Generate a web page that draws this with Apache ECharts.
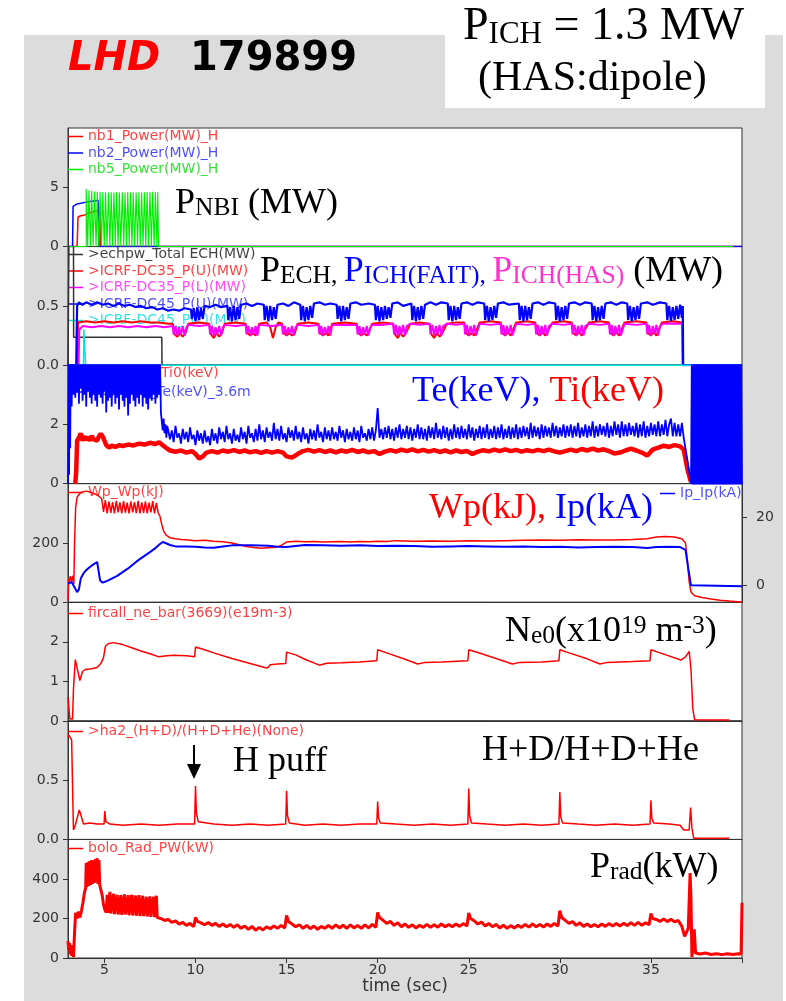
<!DOCTYPE html>
<html>
<head>
<meta charset="utf-8">
<script src="https://cdn.jsdelivr.net/npm/echarts@6/dist/echarts.min.js"></script>
<style>
html, body { margin: 0; padding: 0; background: #fff; }
#chart { width: 786px; height: 1001px; }
</style>
</head>
<body>
<div id="chart"></div>
<script>
//time axis (sec)
var tMin = 3, tMax = 40;
var timeTicks = [5, 10, 15, 20, 25, 30, 35];

//y ranges and labelled ticks of the 7 panels, top to bottom
var yRanges = [[0, 10], [0, 1], [0, 4], [0, 400], [0, 3], [0, 1], [0, 600]];
var yTicks = [[0, 5], [0, 0.5], [0, 2], [0, 200], [0, 1, 2], [0, 0.5], [0, 200, 400]];
var ipRange = [-5, 30];
var ipTicks = [0, 20];

//panel 1: NBI power (MW)
var nb1 = [[3.0,0],[3.5,0],[3.55,2.5],[3.7,2.6],[3.9,2.65],[4.1,2.8],[4.3,2.9],[4.5,3.0],[4.75,3.0],[4.78,0],[40,0]];
var nb2 = [[3.0,0],[3.25,0],[3.28,3.4],[3.5,3.6],[4.0,3.75],[4.4,3.85],[4.65,3.9],[4.7,0],[40,0]];
var nb5 = [[3.0,0],[4.0,4.85],[4.08,0],[4.15,4.75],[4.23,0],[4.3,4.7],[4.38,0],[4.46,4.65],[4.54,0],
  [4.61,4.62],[4.69,0],[4.76,4.6],[4.84,0],[4.91,4.6],[4.99,0],[5.06,4.58],[5.14,0],[5.22,4.55],[5.3,0],
  [5.37,4.58],[5.45,0],[5.52,4.55],[5.6,0],[5.67,4.58],[5.75,0],[5.82,4.56],[5.9,0],[5.98,4.58],[6.06,0],
  [6.13,4.56],[6.21,0],[6.28,4.58],[6.36,0],[6.43,4.56],[6.51,0],[6.58,4.58],[6.66,0],[6.74,4.57],[6.82,0],
  [6.89,4.58],[6.97,0],[7.04,4.56],[7.12,0],[7.19,4.58],[7.27,0],[7.34,4.6],[7.42,0],[7.5,4.58],[7.58,0],
  [7.65,4.62],[7.73,0],[7.8,4.6],[7.88,0],[7.93,4.6],[7.97,0],[39.5,0]];

//panel 2: ECH and ICRF power (MW)
var echpw = [[3.0,0],[3.05,0],[3.06,1.2],[3.3,1.2],[3.31,0.235],[8.15,0.235],[8.16,0],[40,0]];
var ich35U = [[3.0,0],[3.5,0],[3.55,0.36],[4.0,0.37],[4.5,0.36],[5.0,0.37],[5.5,0.36],[6.0,0.37],[6.5,0.36],[7.0,0.37],[7.5,0.36],[8.0,0.36],[8.5,0.35],[8.75,0.35],
  [8.85,0.26],[9.0,0.24],[9.15,0.27],[9.3,0.24],[9.45,0.27],[9.6,0.35],[10.2,0.36],[10.75,0.35],
  [10.85,0.26],[11.0,0.23],[11.15,0.27],[11.3,0.24],[11.45,0.27],[11.6,0.35],[12.2,0.36],[12.75,0.35],
  [12.85,0.27],[13.0,0.25],[13.15,0.27],[13.3,0.25],[13.5,0.35],[13.9,0.36],[14.1,0.32],[14.25,0.23],[14.4,0.32],[14.55,0.36],[14.75,0.35],
  [14.85,0.27],[15.0,0.25],[15.15,0.27],[15.3,0.25],[15.45,0.27],[15.6,0.35],[16.2,0.36],[16.75,0.35],
  [16.85,0.27],[17.0,0.25],[17.15,0.27],[17.3,0.25],[17.5,0.35],[18.2,0.36],[18.85,0.35],
  [18.95,0.27],[19.1,0.25],[19.25,0.27],[19.4,0.25],[19.7,0.35],[20.3,0.36],[20.85,0.35],
  [20.95,0.26],[21.1,0.23],[21.25,0.27],[21.4,0.24],[21.55,0.27],[21.8,0.35],[22.3,0.36],[22.85,0.35],
  [22.95,0.26],[23.1,0.23],[23.25,0.27],[23.4,0.24],[23.55,0.27],[23.8,0.35],[24.3,0.36],[24.75,0.36],
  [24.85,0.27],[25.0,0.25],[25.15,0.27],[25.3,0.25],[25.6,0.36],[26.2,0.37],[26.75,0.36],
  [26.85,0.27],[27.0,0.25],[27.15,0.28],[27.3,0.25],[27.6,0.36],[28.2,0.37],[28.65,0.36],
  [28.75,0.27],[28.9,0.25],[29.05,0.28],[29.2,0.25],[29.6,0.36],[30.2,0.37],[30.65,0.36],
  [30.75,0.27],[30.9,0.25],[31.05,0.28],[31.2,0.25],[31.6,0.36],[32.2,0.37],[32.7,0.36],
  [32.8,0.27],[32.95,0.25],[33.1,0.28],[33.25,0.25],[33.55,0.36],[34.2,0.37],[34.75,0.36],
  [34.85,0.27],[35.0,0.25],[35.15,0.28],[35.3,0.25],[35.6,0.36],[36.2,0.37],[36.72,0.36],[36.75,0],[40,0]];
var ich35L = [[3.0,0],[3.58,0],[3.62,0.3],[3.8,0.33],[4.3,0.32],[4.8,0.33],[5.3,0.32],[5.8,0.33],[6.3,0.32],[6.8,0.33],[7.3,0.32],[7.8,0.33],[8.3,0.32],[8.75,0.33],
  [8.8,0.26],[8.9,0.33],[9.0,0.25],[9.1,0.32],[9.2,0.26],[9.3,0.33],[9.4,0.25],[9.5,0.32],[9.6,0.34],[10.2,0.33],[10.75,0.34],
  [10.8,0.26],[10.9,0.33],[11.0,0.25],[11.1,0.32],[11.2,0.26],[11.3,0.33],[11.4,0.25],[11.5,0.32],[11.6,0.34],[12.2,0.33],[12.75,0.34],
  [12.8,0.26],[12.9,0.33],[13.0,0.25],[13.1,0.32],[13.2,0.26],[13.3,0.33],[13.4,0.25],[13.5,0.34],[14.2,0.33],[14.75,0.34],
  [14.8,0.26],[14.9,0.33],[15.0,0.25],[15.1,0.32],[15.2,0.26],[15.3,0.33],[15.4,0.25],[15.5,0.32],[15.6,0.34],[16.2,0.33],[16.75,0.34],
  [16.8,0.26],[16.9,0.33],[17.0,0.25],[17.1,0.32],[17.2,0.26],[17.3,0.33],[17.4,0.25],[17.5,0.34],[18.2,0.34],[18.85,0.34],
  [18.9,0.26],[19.0,0.33],[19.1,0.25],[19.2,0.32],[19.3,0.26],[19.4,0.33],[19.5,0.25],[19.6,0.32],[19.7,0.34],[20.3,0.34],[20.85,0.35],
  [20.9,0.26],[21.0,0.34],[21.1,0.25],[21.2,0.33],[21.3,0.26],[21.4,0.34],[21.5,0.25],[21.6,0.33],[21.8,0.35],[22.3,0.34],[22.85,0.35],
  [22.9,0.26],[23.0,0.34],[23.1,0.25],[23.2,0.33],[23.3,0.26],[23.4,0.34],[23.5,0.25],[23.6,0.33],[23.8,0.35],[24.3,0.34],[24.75,0.35],
  [24.8,0.26],[24.9,0.34],[25.0,0.25],[25.1,0.33],[25.2,0.26],[25.3,0.34],[25.4,0.25],[25.6,0.35],[26.2,0.34],[26.75,0.35],
  [26.8,0.26],[26.9,0.34],[27.0,0.25],[27.1,0.33],[27.2,0.26],[27.3,0.34],[27.4,0.25],[27.6,0.35],[28.2,0.34],[28.65,0.35],
  [28.7,0.26],[28.8,0.34],[28.9,0.25],[29.0,0.33],[29.1,0.26],[29.2,0.34],[29.3,0.25],[29.4,0.33],[29.6,0.35],[30.2,0.34],[30.65,0.35],
  [30.7,0.26],[30.8,0.34],[30.9,0.25],[31.0,0.33],[31.1,0.26],[31.2,0.34],[31.3,0.25],[31.4,0.33],[31.6,0.35],[32.2,0.34],[32.7,0.35],
  [32.75,0.26],[32.85,0.34],[32.95,0.25],[33.05,0.33],[33.15,0.26],[33.25,0.34],[33.35,0.25],[33.55,0.35],[34.2,0.34],[34.75,0.35],
  [34.8,0.26],[34.9,0.34],[35.0,0.25],[35.1,0.33],[35.2,0.26],[35.3,0.34],[35.4,0.25],[35.5,0.33],[35.65,0.35],[36.2,0.35],[36.72,0.35],[36.75,0],[40,0]];
var ich45U = [[3.0,0],[3.45,0],[3.5,0.5],[3.6,0.53],[3.8,0.51],[4.0,0.53],[4.3,0.51],[4.6,0.53],[4.9,0.51],[5.2,0.52],[5.5,0.5],[5.8,0.52],[6.1,0.5],[6.4,0.51],[6.7,0.49],[7.0,0.5],[7.3,0.48],[7.6,0.49],[7.9,0.47],[8.2,0.48],[8.5,0.46],[8.8,0.47],[9.1,0.46],[9.4,0.48],[9.75,0.47],
  [9.8,0.39],[9.9,0.48],[10.0,0.37],[10.1,0.49],[10.2,0.38],[10.3,0.48],[10.4,0.39],[10.5,0.5],[10.8,0.49],[11.1,0.51],[11.4,0.49],[11.75,0.5],
  [11.8,0.38],[11.9,0.49],[12.0,0.37],[12.1,0.5],[12.2,0.38],[12.3,0.49],[12.4,0.39],[12.5,0.51],[12.8,0.52],[13.1,0.5],[13.4,0.52],[13.75,0.51],
  [13.8,0.38],[13.9,0.5],[14.0,0.37],[14.1,0.5],[14.2,0.38],[14.3,0.49],[14.4,0.39],[14.5,0.51],[14.8,0.52],[15.1,0.5],[15.4,0.53],[15.75,0.51],
  [15.8,0.38],[15.9,0.5],[16.0,0.37],[16.1,0.49],[16.2,0.38],[16.3,0.5],[16.4,0.4],[16.5,0.52],[16.8,0.53],[17.1,0.51],[17.4,0.52],[17.75,0.51],
  [17.8,0.39],[17.9,0.5],[18.0,0.37],[18.1,0.5],[18.2,0.38],[18.3,0.49],[18.4,0.39],[18.5,0.52],[18.8,0.53],[19.1,0.51],[19.5,0.52],[19.85,0.51],
  [19.9,0.38],[20.0,0.5],[20.1,0.37],[20.2,0.49],[20.3,0.38],[20.4,0.5],[20.5,0.39],[20.6,0.49],[20.7,0.4],[20.8,0.52],[21.1,0.53],[21.4,0.5],[21.85,0.52],
  [21.9,0.38],[22.0,0.5],[22.1,0.37],[22.2,0.49],[22.3,0.38],[22.4,0.5],[22.5,0.39],[22.6,0.51],[22.9,0.53],[23.2,0.51],[23.5,0.53],[23.85,0.52],
  [23.9,0.38],[24.0,0.5],[24.1,0.37],[24.2,0.5],[24.3,0.38],[24.4,0.49],[24.5,0.39],[24.6,0.52],[24.9,0.53],[25.2,0.51],[25.5,0.53],[25.85,0.52],
  [25.9,0.38],[26.0,0.5],[26.1,0.37],[26.2,0.49],[26.3,0.38],[26.4,0.5],[26.5,0.4],[26.6,0.52],[26.9,0.53],[27.2,0.51],[27.75,0.52],
  [27.8,0.38],[27.9,0.5],[28.0,0.37],[28.1,0.5],[28.2,0.38],[28.3,0.49],[28.4,0.39],[28.5,0.52],[28.8,0.53],[29.1,0.51],[29.4,0.53],[29.75,0.52],
  [29.8,0.38],[29.9,0.5],[30.0,0.37],[30.1,0.49],[30.2,0.38],[30.3,0.5],[30.4,0.39],[30.5,0.52],[30.8,0.53],[31.1,0.51],[31.4,0.53],[31.75,0.52],
  [31.8,0.38],[31.9,0.5],[32.0,0.37],[32.1,0.49],[32.2,0.38],[32.3,0.5],[32.4,0.39],[32.5,0.52],[32.8,0.53],[33.1,0.51],[33.4,0.53],[33.7,0.52],
  [33.75,0.38],[33.85,0.5],[33.95,0.37],[34.05,0.49],[34.15,0.38],[34.25,0.5],[34.35,0.39],[34.45,0.52],[34.8,0.53],[35.1,0.51],[35.5,0.53],[35.85,0.52],
  [35.9,0.38],[36.0,0.5],[36.1,0.37],[36.2,0.49],[36.3,0.38],[36.4,0.5],[36.5,0.39],[36.6,0.51],[36.7,0.4],[36.75,0.5],[36.77,0],[40,0]];
var ich45L = [[3.0,0],[3.85,0],[3.87,0.3],[3.95,0.3],[3.97,0],[40,0]];

//panel 3: Ti and Te (keV)
var ti0 = [[3.4,0],[3.45,0.4],[3.5,1.45],[3.6,1.55],[3.7,1.7],[3.8,1.45],[3.9,1.6],[4.0,1.48],[4.1,1.58],[4.2,1.45],[4.3,1.62],[4.4,1.5],[4.5,1.55],[4.6,1.45],[4.7,1.6],[4.8,1.68],[4.9,1.6],[5.0,1.45],
  [5.1,1.3],[5.25,1.22],[5.4,1.28],[5.6,1.24],[5.8,1.3],[6.0,1.27],[6.3,1.32],[6.6,1.29],[6.9,1.35],[7.2,1.32],[7.5,1.38],[7.8,1.34],[8.0,1.4],[8.2,1.3],[8.4,1.2],[8.6,1.12],[8.9,1.08],[9.2,1.12],[9.5,1.05],[9.8,1.1],
  [10.0,1.0],[10.2,0.85],[10.4,0.92],[10.6,1.05],[10.9,1.1],[11.2,1.05],[11.5,1.12],[11.8,1.08],[12.1,1.13],[12.4,1.07],[12.7,1.12],[13.0,1.06],[13.3,1.1],[13.6,1.04],[13.9,1.1],[14.2,1.05],[14.5,1.1],[14.8,1.05],
  [15.0,0.92],[15.3,0.88],[15.6,1.0],[15.9,1.1],[16.2,1.14],[16.5,1.08],[16.8,1.13],[17.1,1.07],[17.4,1.12],[17.7,1.06],[18.0,1.12],[18.3,1.08],[18.6,1.14],[18.9,1.07],[19.2,1.12],[19.5,1.06],[19.8,1.1],
  [20.1,1.0],[20.4,1.08],[20.7,1.13],[21.0,1.08],[21.3,1.15],[21.6,1.1],[21.9,1.16],[22.2,1.09],[22.5,1.14],[22.8,1.08],[23.1,1.13],[23.4,1.07],[23.7,1.12],[24.0,1.06],[24.3,1.12],[24.6,1.07],[24.9,1.1],
  [25.2,1.0],[25.5,1.08],[25.8,1.13],[26.1,1.09],[26.4,1.15],[26.7,1.1],[27.0,1.16],[27.3,1.1],[27.6,1.14],[27.9,1.08],[28.2,1.13],[28.5,1.09],[28.8,1.14],[29.1,1.1],[29.4,1.15],[29.7,1.09],
  [30.0,1.05],[30.3,1.1],[30.6,1.15],[30.9,1.1],[31.2,1.17],[31.5,1.12],[31.8,1.18],[32.1,1.12],[32.4,1.16],[32.7,1.1],[33.0,1.02],[33.3,1.05],[33.6,1.12],[33.9,1.18],[34.2,1.12],[34.5,1.05],[34.8,0.95],
  [35.1,1.15],[35.4,1.22],[35.7,1.28],[36.0,1.24],[36.3,1.3],[36.6,1.26],[36.8,1.15],[37.0,0.5],[37.2,0.05]];
var teThomson = [[3.0,0],[3.03,4.6],[3.06,0.3],[3.09,4.6],[3.12,1.2],[3.15,4.5],[3.2,2.6],[3.25,4.5],[3.3,3.0],[3.35,4.6],
  [3.4,2.9],[3.45,4.4],[3.5,3.1],[3.55,4.6],[3.6,2.7],[3.65,4.5],[3.7,3.2],[3.75,4.4],[3.8,2.8],[3.85,4.6],
  [3.9,3.0],[3.95,4.5],[4.0,2.6],[4.05,4.4],[4.1,3.1],[4.15,4.6],[4.2,2.9],[4.25,4.3],[4.3,2.7],[4.35,4.5],
  [4.4,3.0],[4.45,4.6],[4.5,2.8],[4.55,4.4],[4.6,2.6],[4.65,4.5],[4.7,3.0],[4.75,4.3],[4.8,2.9],[4.85,4.6],
  [4.9,2.7],[4.95,4.4],[5.0,3.1],[5.05,4.5],[5.1,2.4],[5.15,4.3],[5.2,2.8],[5.25,4.6],[5.3,2.9],[5.35,4.4],
  [5.4,2.6],[5.45,4.5],[5.5,3.0],[5.55,4.3],[5.6,2.7],[5.65,4.6],[5.7,2.9],[5.75,4.4],[5.8,2.5],[5.85,4.5],
  [5.9,3.0],[5.95,4.3],[6.0,2.8],[6.05,4.6],[6.1,2.6],[6.15,4.4],[6.2,2.9],[6.25,4.5],[6.3,2.3],[6.35,4.3],
  [6.4,2.7],[6.45,4.6],[6.5,3.0],[6.55,4.4],[6.6,2.8],[6.65,4.5],[6.7,2.6],[6.75,4.3],[6.8,2.9],[6.85,4.6],
  [6.9,2.7],[6.95,4.4],[7.0,3.0],[7.05,4.5],[7.1,2.6],[7.15,4.3],[7.2,2.9],[7.25,4.6],[7.3,2.7],[7.35,4.4],
  [7.4,2.5],[7.45,4.5],[7.5,2.9],[7.55,4.3],[7.6,2.8],[7.65,4.6],[7.7,3.0],[7.75,4.4],[7.8,2.7],[7.85,4.5],
  [7.9,2.9],[7.95,4.3],[8.0,3.0],[8.05,4.2],[8.1,2.4],[8.15,2.1],[8.2,1.8],[8.25,2.2],[8.3,1.7],[8.35,2.0],[8.4,1.55],[8.45,1.95],
  [8.5,1.9],[8.6,1.5],[8.7,1.8],[8.8,1.4],[8.9,1.95],[9.0,1.55],[9.1,1.7],[9.2,1.35],[9.3,1.85],[9.4,1.5],
  [9.5,1.75],[9.6,1.4],[9.7,1.9],[9.8,1.5],[9.9,1.65],[10.0,1.3],[10.1,1.8],[10.2,1.45],[10.3,1.7],[10.4,1.35],
  [10.5,1.8],[10.6,1.4],[10.7,1.6],[10.8,1.3],[10.9,1.85],[11.0,1.45],[11.1,1.7],[11.2,1.35],[11.3,1.9],[11.4,1.5],
  [11.5,1.75],[11.6,1.4],[11.7,1.95],[11.8,1.5],[11.9,1.7],[12.0,1.35],[12.1,1.85],[12.2,1.45],[12.3,1.65],[12.4,1.4],
  [12.5,1.9],[12.6,1.5],[12.7,1.75],[12.8,1.35],[12.9,1.95],[13.0,1.55],[13.1,1.7],[13.2,1.4],[13.3,1.85],[13.4,1.45],
  [13.5,2.0],[13.6,1.5],[13.7,1.8],[13.8,1.4],[13.9,1.9],[14.0,1.55],[14.1,1.75],[14.2,1.45],[14.3,2.05],[14.4,1.5],
  [14.5,1.85],[14.6,1.45],[14.7,1.95],[14.8,1.5],[14.9,1.7],[15.0,1.4],[15.1,1.9],[15.2,1.55],[15.3,1.8],[15.4,1.45],
  [15.5,1.95],[15.6,1.5],[15.7,1.75],[15.8,1.4],[15.9,1.9],[16.0,1.5],[16.1,1.7],[16.2,1.35],[16.3,1.85],[16.4,1.5],
  [16.5,1.8],[16.6,1.45],[16.7,2.0],[16.8,1.55],[16.9,1.75],[17.0,1.4],[17.1,1.9],[17.2,1.5],[17.3,1.8],[17.4,1.45],
  [17.5,1.9],[17.6,1.5],[17.7,1.75],[17.8,1.45],[17.9,1.95],[18.0,1.55],[18.1,1.8],[18.2,1.4],[18.3,1.85],[18.4,1.5],
  [18.5,1.75],[18.6,1.45],[18.7,1.9],[18.8,1.5],[18.9,1.8],[19.0,1.4],[19.1,1.95],[19.2,1.55],[19.3,1.7],[19.4,1.45],
  [19.5,1.85],[19.6,1.5],[19.7,1.9],[19.8,1.45],[19.9,1.8],[20.0,2.55],[20.1,1.55],[20.2,1.85],[20.3,1.5],[20.4,1.9],
  [20.5,1.55],[20.6,1.95],[20.7,1.5],[20.8,1.85],[20.9,1.45],[21.0,1.9],[21.1,1.55],[21.2,2.0],[21.3,1.5],[21.4,1.85],
  [21.5,1.55],[21.6,1.95],[21.7,1.5],[21.8,1.9],[21.9,1.45],[22.0,1.85],[22.1,1.55],[22.2,2.0],[22.3,1.5],[22.4,1.9],
  [22.5,1.5],[22.6,1.85],[22.7,1.45],[22.8,1.95],[22.9,1.55],[23.0,1.9],[23.1,1.5],[23.2,2.05],[23.3,1.55],[23.4,1.85],
  [23.5,1.5],[23.6,1.95],[23.7,1.55],[23.8,1.9],[23.9,1.45],[24.0,1.85],[24.1,1.5],[24.2,2.0],[24.3,1.55],[24.4,1.9],
  [24.5,1.5],[24.6,1.95],[24.7,1.55],[24.8,1.85],[24.9,1.5],[25.0,2.0],[25.1,1.55],[25.2,1.9],[25.3,1.45],[25.4,1.85],
  [25.5,1.55],[25.6,1.95],[25.7,1.5],[25.8,1.9],[25.9,1.55],[26.0,2.0],[26.1,1.5],[26.2,1.85],[26.3,1.55],[26.4,1.95],
  [26.5,1.5],[26.6,1.9],[26.7,1.55],[26.8,2.0],[26.9,1.5],[27.0,1.85],[27.1,1.55],[27.2,1.95],[27.3,1.5],[27.4,1.9],
  [27.5,1.55],[27.6,2.0],[27.7,1.5],[27.8,1.9],[27.9,1.55],[28.0,1.95],[28.1,1.6],[28.2,1.9],[28.3,1.5],[28.4,2.05],
  [28.5,1.55],[28.6,1.95],[28.7,1.6],[28.8,1.9],[28.9,1.5],[29.0,2.0],[29.1,1.55],[29.2,1.95],[29.3,1.6],[29.4,1.9],
  [29.5,1.55],[29.6,2.05],[29.7,1.6],[29.8,1.95],[29.9,1.55],[30.0,1.9],[30.1,1.6],[30.2,2.0],[30.3,1.55],[30.4,1.95],
  [30.5,1.6],[30.6,2.0],[30.7,1.55],[30.8,1.95],[30.9,1.6],[31.0,2.05],[31.1,1.55],[31.2,1.9],[31.3,1.6],[31.4,2.0],
  [31.5,1.55],[31.6,1.95],[31.7,1.6],[31.8,2.1],[31.9,1.55],[32.0,1.95],[32.1,1.6],[32.2,2.0],[32.3,1.65],[32.4,1.95],
  [32.5,1.6],[32.6,2.05],[32.7,1.55],[32.8,1.95],[32.9,1.6],[33.0,2.1],[33.1,1.65],[33.2,2.0],[33.3,1.55],[33.4,2.1],
  [33.5,1.6],[33.6,2.0],[33.7,1.6],[33.8,2.05],[33.9,1.65],[34.0,1.95],[34.1,1.6],[34.2,2.05],[34.3,1.55],[34.4,2.0],
  [34.5,1.6],[34.6,2.1],[34.7,1.55],[34.8,1.95],[34.9,1.6],[35.0,2.05],[35.1,1.65],[35.2,2.0],[35.3,1.6],[35.4,2.1],
  [35.5,1.6],[35.6,2.0],[35.7,1.65],[35.8,2.15],[35.9,1.6],[36.0,2.0],[36.1,2.2],[36.2,1.6],[36.3,2.05],[36.4,1.6],
  [36.5,2.0],[36.6,1.6],[36.7,2.05],[36.8,1.55],[36.9,1.6],[37.0,0.8],[37.2,0],
  [37.25,4.6],[37.3,-0.4],[37.35,4.6],[37.4,-0.4],[37.45,4.6],[37.5,-0.4],[37.55,4.6],[37.6,-0.4],[37.65,4.6],[37.7,-0.4],
  [37.75,4.6],[37.8,-0.4],[37.85,4.6],[37.9,-0.4],[37.95,4.6],[38.0,-0.4],[38.05,4.6],[38.1,-0.4],[38.15,4.6],[38.2,-0.4],
  [38.25,4.6],[38.3,-0.4],[38.35,4.6],[38.4,-0.4],[38.45,4.6],[38.5,-0.4],[38.55,4.6],[38.6,-0.4],[38.65,4.6],[38.7,-0.4],
  [38.75,4.6],[38.8,-0.4],[38.85,4.6],[38.9,-0.4],[38.95,4.6],[39.0,-0.4],[39.05,4.6],[39.1,-0.4],[39.15,4.6],[39.2,-0.4],
  [39.25,4.6],[39.3,-0.4],[39.35,4.6],[39.4,-0.4],[39.45,4.6],[39.5,-0.4],[39.55,4.6],[39.6,-0.4],[39.65,4.6],[39.7,-0.4],
  [39.75,4.6],[39.8,-0.4],[39.85,4.6],[39.9,-0.4],[39.95,4.6],[40.0,-0.4]];

//panel 4: stored energy Wp (kJ) and plasma current Ip (kA)
var wp = [[3.0,5],[3.04,80],[3.08,70],[3.13,88],[3.2,72],[3.27,90],[3.32,62],[3.36,200],[3.42,320],[3.5,355],[3.7,370],[4.0,375],[4.3,370],[4.6,362],[4.85,350],
  [4.95,305],[5.05,345],[5.15,300],[5.25,340],[5.35,302],[5.45,338],[5.55,300],[5.65,342],[5.75,303],[5.85,337],[5.95,300],[6.05,341],[6.15,302],[6.25,336],[6.35,300],[6.45,340],
  [6.55,303],[6.65,338],[6.75,301],[6.85,342],[6.95,300],[7.05,337],[7.15,302],[7.25,340],[7.35,300],[7.45,336],[7.55,303],[7.65,341],[7.75,300],[7.85,335],[7.95,302],
  [8.05,290],[8.15,262],[8.25,240],[8.4,226],[8.6,218],[8.9,214],[9.2,212],[9.6,210],[10.0,208],[10.5,209],[11.0,206],[11.5,204],[12.0,200],[12.4,194],[12.8,188],[13.2,185],[13.6,182],[14.0,184],[14.4,186],[14.7,192],
  [15.0,203],[15.5,206],[16.0,204],[16.5,205],[17.0,203],[17.5,204],[18.0,205],[18.5,203],[19.0,205],[19.5,204],[20.0,206],[20.5,205],[21.0,208],[22.0,206],[23.0,207],[24.0,206],[25.0,208],[26.0,207],
  [27.0,208],[28.0,209],[29.0,210],[30.0,209],[31.0,211],[32.0,210],[33.0,210],[34.0,212],[34.8,214],[35.3,220],[35.8,222],[36.3,220],[36.7,214],[36.9,200],[37.0,140],[37.1,70],[37.2,35],[37.4,22],[37.8,16],[38.3,11],[38.8,7],[39.3,4],[39.8,2],[40.0,1]];
var ip = [[3.0,0.5],[3.2,1.0],[3.35,-0.5],[3.5,-2.0],[3.6,-1.2],[3.7,2.0],[3.85,3.5],[4.0,4.5],[4.2,5.4],[4.4,6.2],[4.6,6.9],[4.7,6.8],[4.76,1.5],[4.9,0.8],[5.1,1.2],[5.4,2.0],[5.7,2.8],[6.0,3.9],[6.3,5.0],[6.6,6.3],[6.9,7.6],[7.2,8.7],[7.5,9.8],[7.8,11.0],
  [8.05,12.2],[8.2,12.8],[8.35,12.5],[8.6,11.9],[8.9,11.5],[9.5,11.5],[10.0,11.4],[10.5,11.2],[11.0,11.1],[11.5,11.5],[12.0,11.8],[13.0,11.8],[14.0,11.7],[14.5,11.4],[15.0,11.3],[15.5,11.6],[16.0,11.9],[17.0,11.8],
  [18.0,11.7],[19.0,11.8],[20.0,11.6],[21.0,11.7],[22.0,11.6],[23.0,11.4],[24.0,11.5],[25.0,11.6],[26.0,11.5],[27.0,11.4],[28.0,11.5],[29.0,11.3],[30.0,11.4],[31.0,11.2],[32.0,11.3],[33.0,11.4],[34.0,11.3],
  [34.8,11.0],[35.3,11.3],[36.0,11.4],[36.6,11.3],[36.9,10.5],[37.05,5.0],[37.2,0],[37.3,-0.3],[40.0,-0.3]];

//panel 5: line averaged density (1e19 m-3)
var neBar = [[3.0,0.6],[3.05,0.55],[3.1,0.05],[3.25,0.05],[3.3,0.8],[3.4,1.55],[3.5,1.35],[3.65,1.02],[3.8,1.25],[3.95,1.3],[4.3,1.32],[4.6,1.35],[4.8,1.45],[4.95,1.6],[5.05,1.88],[5.2,1.95],[5.5,1.98],
  [6.0,1.93],[6.5,1.85],[7.0,1.77],[7.5,1.7],[8.0,1.62],[8.3,1.64],[8.8,1.66],[9.5,1.65],[9.95,1.62],[10.0,1.87],[10.5,1.8],[11.0,1.72],[12.0,1.58],[13.0,1.45],[13.8,1.35],[13.95,1.34],[14.1,1.42],[14.5,1.44],[14.95,1.45],
  [15.0,1.74],[15.5,1.67],[16.0,1.56],[16.8,1.41],[17.2,1.46],[18.0,1.47],[19.0,1.49],[19.95,1.52],[20.0,1.8],[20.5,1.72],[21.5,1.56],[22.2,1.44],[22.6,1.48],[23.5,1.49],[24.95,1.52],
  [25.0,1.8],[25.5,1.73],[26.5,1.58],[27.4,1.44],[27.8,1.48],[29.0,1.49],[29.95,1.52],[30.0,1.8],[30.5,1.72],[31.5,1.57],[32.2,1.44],[32.6,1.48],[34.0,1.5],[34.95,1.52],
  [35.0,1.8],[35.5,1.72],[36.65,1.54],[36.9,1.62],[37.1,1.76],[37.2,1.3],[37.3,0.3],[37.4,0.03],[39.3,0.02]];

//panel 6: (H+D)/(H+D+He) ratio
var ha2 = [[3.0,0.86],[3.05,0.88],[3.12,0.86],[3.2,0.84],[3.25,0.45],[3.3,0.08],[3.4,0.12],[3.5,0.18],[3.62,0.25],[3.72,0.2],[3.85,0.13],[4.2,0.14],[4.6,0.13],[4.98,0.13],[5.02,0.24],[5.08,0.15],[5.3,0.13],
  [6.0,0.12],[7.0,0.13],[8.0,0.12],[9.0,0.13],[9.95,0.13],[10.0,0.45],[10.05,0.22],[10.15,0.15],[11.0,0.13],[12.0,0.12],[13.0,0.13],[14.0,0.12],[14.95,0.13],[15.0,0.41],[15.05,0.2],[15.15,0.14],
  [16.0,0.12],[17.0,0.13],[18.0,0.12],[19.0,0.13],[19.95,0.13],[20.0,0.32],[20.05,0.18],[20.15,0.14],[21.0,0.13],[22.0,0.12],[23.0,0.13],[24.0,0.12],[24.95,0.13],[25.0,0.43],[25.05,0.2],[25.15,0.14],
  [26.0,0.13],[27.0,0.12],[28.0,0.13],[29.0,0.12],[29.95,0.13],[30.0,0.4],[30.05,0.19],[30.15,0.14],[31.0,0.13],[32.0,0.12],[33.0,0.13],[34.0,0.12],[34.95,0.13],[35.0,0.33],[35.05,0.18],[35.15,0.14],
  [36.0,0.13],[36.6,0.12],[36.8,0.08],[37.1,0.08],[37.18,0.27],[37.25,0.1],[37.35,0.01],[39.3,0.01]];

//panel 7: radiated power (kW)
var prad = [[3.0,85],[3.04,40],[3.08,75],[3.12,20],[3.16,65],[3.2,10],[3.26,50],[3.3,5],[3.36,130],[3.42,230],[3.5,200],[3.58,235],[3.66,205],[3.74,240],[3.82,280],[3.9,330],[3.97,355],
  [4.0,480],[4.04,360],[4.1,485],[4.14,365],[4.2,490],[4.24,370],[4.3,495],[4.34,375],[4.4,490],[4.44,380],[4.5,500],[4.54,385],[4.6,505],[4.64,375],[4.7,495],[4.74,370],[4.8,360],[4.87,320],[4.95,270],[5.02,245],
  [5.1,230],[5.15,320],[5.2,228],[5.3,335],[5.35,225],[5.5,325],[5.55,222],[5.7,320],[5.75,220],[5.9,318],[5.95,218],[6.1,322],[6.15,220],[6.3,318],[6.35,216],[6.5,320],[6.55,215],[6.7,316],[6.75,214],
  [6.9,318],[6.95,212],[7.1,315],[7.15,212],[7.3,310],[7.35,210],[7.5,312],[7.55,208],[7.7,310],[7.75,207],[7.85,315],[7.9,205],
  [8.1,200],[8.3,190],[8.5,195],[8.7,180],[8.9,188],[9.1,172],[9.3,180],[9.5,165],[9.7,175],[9.9,158],[10.0,205],[10.1,185],[10.3,178],[10.5,168],[10.7,180],[10.9,165],[11.1,175],[11.3,160],[11.5,172],[11.7,158],
  [11.9,170],[12.1,155],[12.3,168],[12.5,150],[12.7,162],[12.9,145],[13.1,160],[13.3,140],[13.5,155],[13.7,142],[13.9,158],[14.1,148],[14.3,162],[14.5,150],[14.7,165],[14.9,152],[15.0,215],[15.1,185],
  [15.3,172],[15.5,158],[15.7,168],[15.9,150],[16.1,165],[16.3,148],[16.5,162],[16.7,145],[16.9,160],[17.1,150],[17.3,165],[17.5,150],[17.7,168],[17.9,152],[18.1,166],[18.3,150],[18.5,168],[18.7,152],
  [18.9,165],[19.1,150],[19.3,168],[19.5,152],[19.7,170],[19.9,155],[20.0,230],[20.1,205],[20.3,190],[20.5,175],[20.7,185],[20.9,165],[21.1,178],[21.3,158],[21.5,172],[21.7,155],[21.9,168],[22.1,152],
  [22.3,166],[22.5,155],[22.7,170],[22.9,155],[23.1,168],[23.3,156],[23.5,172],[23.7,158],[23.9,170],[24.1,158],[24.3,172],[24.5,160],[24.7,174],[24.9,162],[25.0,228],[25.1,200],[25.3,188],[25.5,172],
  [25.7,182],[25.9,162],[26.1,175],[26.3,158],[26.5,170],[26.7,152],[26.9,166],[27.1,150],[27.3,164],[27.5,152],[27.7,166],[27.9,155],[28.1,170],[28.3,156],[28.5,172],[28.7,158],[28.9,170],[29.1,157],
  [29.3,172],[29.5,160],[29.7,175],[29.9,162],[30.0,240],[30.1,205],[30.3,190],[30.5,175],[30.7,184],[30.9,165],[31.1,178],[31.3,160],[31.5,172],[31.7,158],[31.9,170],[32.1,158],[32.3,172],[32.5,160],
  [32.7,174],[32.9,162],[33.1,175],[33.3,162],[33.5,176],[33.7,164],[33.9,178],[34.1,165],[34.3,180],[34.5,166],[34.7,178],[34.9,168],[35.0,225],[35.1,200],[35.3,195],[35.5,185],[35.7,198],[35.9,184],
  [36.1,196],[36.3,183],[36.5,190],[36.7,160],[36.85,110],[36.95,105],[37.05,150],[37.15,430],[37.2,300],[37.25,5],[37.32,10],[37.38,145],[37.45,25],[37.7,20],[38.0,25],[38.3,18],[38.6,22],[38.9,17],
  [39.2,21],[39.5,18],[39.8,22],[39.95,20],[40.0,280]];

var chart = echarts.init(document.getElementById('chart'));

var panelTop = [128, 246.6, 365.1, 483.7, 602.3, 720.9, 839.4];
var panelH = 118.6;
var axisColor = '#333';
var sans = '"DejaVu Sans", sans-serif';
var serif = '"Liberation Serif", "Times New Roman", serif';

var grids = panelTop.map(function (t) {
    return { left: 68, width: 674, top: t, height: panelH, show: true,
        backgroundColor: '#fff', borderColor: axisColor, borderWidth: 1 };
});

var xAxes = panelTop.map(function (t, i) {
    var last = i === panelTop.length - 1;
    return {
        type: 'value', gridIndex: i, min: tMin, max: tMax,
        axisLine: { show: true, onZero: false, lineStyle: { color: axisColor } },
        axisTick: { show: last, length: 5, customValues: timeTicks.concat([tMax]), lineStyle: { color: axisColor } },
        axisLabel: { show: last, customValues: timeTicks, fontSize: 14, fontFamily: sans, color: axisColor, margin: 5 },
        splitLine: { show: false },
        name: last ? 'time (sec)' : '', nameLocation: 'middle', nameGap: 17,
        nameTextStyle: { fontSize: 17, fontFamily: sans, color: axisColor, verticalAlign: 'top' }
    };
});

var yAxes = yRanges.map(function (r, i) {
    var oneDecimal = (i === 1 || i === 5);
    return {
        type: 'value', gridIndex: i, min: r[0], max: r[1], position: 'left',
        axisLine: { show: true, onZero: false, lineStyle: { color: axisColor } },
        axisTick: { show: true, length: 5, customValues: yTicks[i], lineStyle: { color: axisColor } },
        axisLabel: { customValues: yTicks[i], fontSize: 14, fontFamily: sans, color: axisColor, margin: 9,
            formatter: function (v) { return oneDecimal ? v.toFixed(1) : String(v); } },
        splitLine: { show: false }
    };
});
//right axis of panel 4 for Ip
yAxes.push({
    type: 'value', gridIndex: 3, min: ipRange[0], max: ipRange[1], position: 'right',
    axisLine: { show: true, onZero: false, lineStyle: { color: axisColor } },
    axisTick: { show: true, length: 5, customValues: ipTicks, lineStyle: { color: axisColor } },
    axisLabel: { customValues: ipTicks, fontSize: 14, fontFamily: sans, color: axisColor, margin: 14 },
    splitLine: { show: false }
});

function line(name, data, color, width, panel, yIndex, extra) {
    var s = { name: name, type: 'line', data: data, xAxisIndex: panel, yAxisIndex: yIndex,
        color: color, showSymbol: false, symbol: 'none', silent: true,
        lineStyle: { width: width, color: color } };
    if (extra) { for (var k in extra) { s[k] = extra[k]; } }
    return s;
}

var series = [
    line('nb1_Power(MW)_H', nb1, '#ff0000', 1.5, 0, 0),
    line('nb2_Power(MW)_H', nb2, '#0000ff', 1.5, 0, 0),
    line('nb5_Power(MW)_H', nb5, '#00ee00', 1.1, 0, 0, { step: 'end' }),
    line('>echpw_Total ECH(MW)', echpw, '#333333', 1.5, 1, 1),
    line('>ICRF-DC35_P(U)(MW)', ich35U, '#ff0000', 2, 1, 1),
    line('>ICRF-DC35_P(L)(MW)', ich35L, '#ff00ff', 2, 1, 1),
    line('>ICRF-DC45_P(U)(MW)', ich45U, '#0000ff', 2.2, 1, 1),
    line('>ICRF-DC45_P(L)(MW)', ich45L, '#00e5e5', 1.5, 1, 1),
    line('Ti_crystal_Ti0(keV)', ti0, '#ff0000', 4.5, 2, 2),
    line('thomson_Te(keV)_3.6m', teThomson, '#0000ff', 1.8, 2, 2),
    line('Wp_Wp(kJ)', wp, '#ff0000', 1.5, 3, 3),
    line('Ip_Ip(kA)', ip, '#0000ff', 2, 3, 7),
    line('fircall_ne_bar(3669)(e19m-3)', neBar, '#ff0000', 1.5, 4, 4),
    line('>ha2_(H+D)/(H+D+He)(None)', ha2, '#ff0000', 1.5, 5, 5),
    line('bolo_Rad_PW(kW)', prad, '#ff0000', 3, 6, 6)
];

function legendAt(left, top, names, colors, gap) {
    return {
        left: left, top: top, orient: 'vertical', padding: 0, itemGap: gap,
        itemWidth: 15, itemHeight: 1.5, icon: 'rect', selectedMode: false, z: 1,
        textStyle: { fontSize: 14, fontFamily: sans, lineHeight: 15 },
        data: names.map(function (n, i) { return { name: n, textStyle: { color: colors[i] } }; })
    };
}
var cRed = 'rgba(255,0,0,0.75)', cBlue = 'rgba(0,0,255,0.7)';
var legends = [
    legendAt(68, 129, ['nb1_Power(MW)_H', 'nb2_Power(MW)_H', 'nb5_Power(MW)_H'], [cRed, cBlue, 'rgba(0,220,0,0.8)'], 1.5),
    legendAt(68, 247, ['>echpw_Total ECH(MW)', '>ICRF-DC35_P(U)(MW)', '>ICRF-DC35_P(L)(MW)', '>ICRF-DC45_P(U)(MW)', '>ICRF-DC45_P(L)(MW)'],
        ['rgba(0,0,0,0.75)', cRed, 'rgba(255,0,255,0.7)', cBlue, 'rgba(0,220,220,0.8)'], 1.5),
    legendAt(68, 366, ['Ti_crystal_Ti0(keV)', 'thomson_Te(keV)_3.6m'], [cRed, cBlue], 3.5),
    legendAt(68, 485, ['Wp_Wp(kJ)'], [cRed], 2),
    legendAt(660, 486, ['Ip_Ip(kA)'], [cBlue], 2),
    legendAt(68, 606, ['fircall_ne_bar(3669)(e19m-3)'], [cRed], 2),
    legendAt(68, 724, ['>ha2_(H+D)/(H+D+He)(None)'], [cRed], 2),
    legendAt(68, 841, ['bolo_Rad_PW(kW)'], [cRed], 2)
];

//rich text pieces for the serif annotations
function tok(size, color, lh, va) {
    return { fontSize: size, fontFamily: serif, fill: color, lineHeight: lh, verticalAlign: va };
}
var rich = {
    m: tok(36, '#000', 36, 'bottom'), s: tok(25.5, '#000', 14, 'bottom'),
    mb: tok(36, '#0000ff', 36, 'bottom'), sb: tok(25.5, '#0000ff', 14, 'bottom'),
    mr: tok(36, '#ff0000', 36, 'bottom'),
    mm: tok(36, '#ff33cc', 36, 'bottom'), sm: tok(25.5, '#ff33cc', 14, 'bottom'),
    p: tok(25.5, '#000', 30, 'top'),
    h: tok(42, '#000', 42, 'bottom'),
    h1: tok(46, '#000', 46, 'bottom'), hs: tok(31, '#000', 18, 'bottom')
};
function note(x, baseline, text) {
    return { type: 'text', x: x, y: baseline - 29.5, z: 1,
        style: { text: text, rich: rich, fill: '#000', font: '36px ' + serif, align: 'left', verticalAlign: 'top' } };
}

var graphics = [
    { type: 'rect', z: -10, shape: { x: 24, y: 35, width: 759, height: 966 }, style: { fill: '#dcdcdc' } },
    { type: 'rect', z: -9, shape: { x: 445, y: 0, width: 320, height: 108 }, style: { fill: '#fff' } },
    { type: 'text', x: 68, y: 40, z: 1, style: { text: 'LHD', fill: '#ff0000', font: 'italic bold 40px ' + sans, verticalAlign: 'top' } },
    { type: 'text', x: 190, y: 40, z: 1, style: { text: '179899', fill: '#000', font: 'bold 40px ' + sans, verticalAlign: 'top' } },
    { type: 'text', x: 463, y: 4, z: 1, style: { text: '{h1|P}{hs|ICH}{h1| = 1.3 MW}', rich: rich, verticalAlign: 'top' } },
    { type: 'text', x: 478, y: 58, z: 1, style: { text: '{h|(HAS:dipole)}', rich: rich, verticalAlign: 'top' } },
    note(175, 215, '{m|P}{s|NBI}{m| (MW)}'),
    note(260, 283, '{m|P}{s|ECH, }{mb|P}{sb|ICH(FAIT), }{mm|P}{sm|ICH(HAS)}{m| (MW)}'),
    note(412, 403, '{mb|Te(keV), }{mr|Ti(keV)}'),
    note(429, 520, '{mr|Wp(kJ), }{mb|Ip(kA)}'),
    note(505, 643, '{m|N}{s|e0}{m|(x10}{p|19}{m| m}{p|-3}{m|)}'),
    note(482, 762, '{m|H+D/H+D+He}'),
    note(233, 773, '{m|H puff}'),
    note(590, 879, '{m|P}{s|rad}{m|(kW)}'),
    { type: 'line', z: 1, shape: { x1: 194, y1: 745, x2: 194, y2: 766 }, style: { stroke: '#000', lineWidth: 2 } },
    { type: 'polygon', z: 1, shape: { points: [[187, 764], [201, 764], [194, 779]] }, style: { fill: '#000' } }
];

var option = {
    backgroundColor: '#fff',
    animation: false,
    grid: grids,
    xAxis: xAxes,
    yAxis: yAxes,
    legend: legends,
    series: series,
    graphic: { elements: graphics }
};
chart.setOption(option);
</script>
</body>
</html>
